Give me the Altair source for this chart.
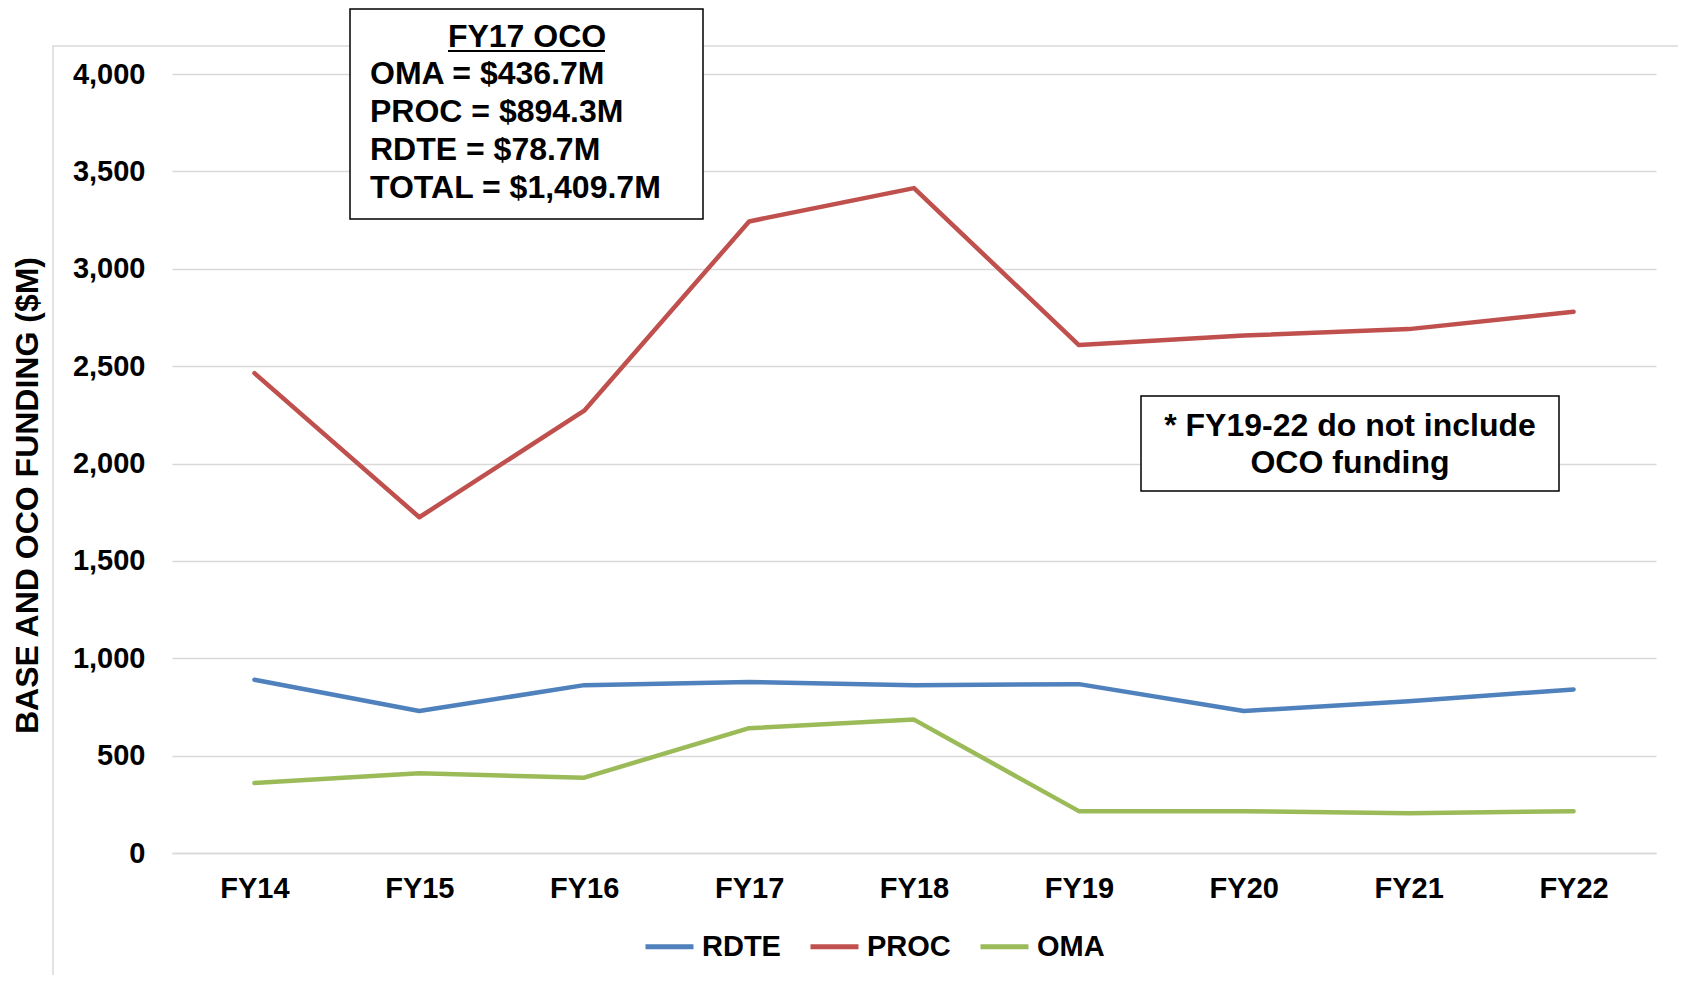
import altair as alt
import pandas as pd

years = ["FY14", "FY15", "FY16", "FY17", "FY18", "FY19", "FY20", "FY21", "FY22"]
rdte = [890, 729, 862, 878, 862, 867, 729, 779, 840]
proc = [2464, 1724, 2271, 3243, 3414, 2608, 2657, 2690, 2779]
oma = [359, 409, 387, 641, 685, 215, 215, 204, 215]
series_names = ["RDTE", "PROC", "OMA"]
series_colors = ["#4F81BD", "#C0504D", "#9BBB59"]
y_ticks = [0, 500, 1000, 1500, 2000, 2500, 3000, 3500, 4000]

box1_title = "FY17 OCO"
box1_lines = ["OMA = $436.7M", "PROC = $894.3M", "RDTE = $78.7M", "TOTAL = $1,409.7M"]
box2_lines = ["* FY19-22 do not include", "OCO funding"]

FONT = "Liberation Sans"
W, H = 1484, 779

rows = []
for name, vals in zip(series_names, [rdte, proc, oma]):
    for yr, v in zip(years, vals):
        rows.append({"year": yr, "value": v, "series": name})
df = pd.DataFrame(rows)

lines = alt.Chart(df).mark_line(strokeWidth=4.5, strokeCap="round", strokeJoin="round").encode(
    x=alt.X("year:N", sort=years,
            scale=alt.Scale(type="point", padding=0.5),
            axis=alt.Axis(title=None, labelAngle=0, labelFont=FONT, labelFontWeight="bold",
                          labelFontSize=29, labelColor="#000000", labelPadding=21,
                          ticks=False, domain=True, domainColor="#d9d9d9", domainWidth=1.5,
                          grid=False)),
    y=alt.Y("value:Q", scale=alt.Scale(domain=[0, 4000], nice=False),
            axis=alt.Axis(values=y_ticks, format=",.0f", title="BASE AND OCO FUNDING ($M)",
                          titleFont=FONT, titleFontWeight="bold", titleFontSize=32,
                          titleColor="#000000", titleX=-145, titleY=421, titleAngle=270,
                          titleAlign="center", titleBaseline="middle",
                          labelFont=FONT, labelFontWeight="bold", labelFontSize=29,
                          labelColor="#000000", labelPadding=27, ticks=False, domain=False,
                          grid=True, gridColor="#d9d9d9", gridWidth=1.5)),
    color=alt.Color("series:N", sort=series_names,
                    scale=alt.Scale(domain=series_names, range=series_colors),
                    legend=alt.Legend(title=None, orient="none", legendX=471, legendY=846,
                                      direction="horizontal", symbolType="stroke",
                                      symbolSize=2304, symbolStrokeWidth=5,
                                      labelFont=FONT, labelFontWeight="bold", labelFontSize=29,
                                      labelColor="#000000", labelOffset=6, columnPadding=19)),
)

# outer frame
frame = alt.Chart(pd.DataFrame({"a": [0]})).mark_rect(
    fill=None, stroke="#d9d9d9", strokeWidth=1.5
).encode(x=alt.value(-119), x2=alt.value(W + 200), y=alt.value(-28), y2=alt.value(H + 300))

# box 1
box1 = alt.Chart(pd.DataFrame({"a": [0]})).mark_rect(
    fill="white", stroke="#000000", strokeWidth=1.5
).encode(x=alt.value(178), x2=alt.value(531), y=alt.value(-65), y2=alt.value(145))

box1_t = alt.Chart(pd.DataFrame({"t": [box1_title]})).mark_text(
    font=FONT, fontWeight="bold", fontSize=32, color="#000000", align="center", baseline="middle"
).encode(text="t:N", x=alt.value(355), y=alt.value(-37))

underline = alt.Chart(pd.DataFrame({"a": [0]})).mark_rule(color="#000000", strokeWidth=2).encode(
    x=alt.value(276), x2=alt.value(433), y=alt.value(-23))

box1_df = pd.DataFrame({"t": box1_lines, "i": list(range(len(box1_lines)))})
box1_txt = alt.Chart(box1_df).mark_text(
    font=FONT, fontWeight="bold", fontSize=32, color="#000000", align="left", baseline="middle"
).encode(text="t:N", x=alt.value(198),
         y=alt.Y("i:O", scale=alt.Scale(type="point", domain=[0, 1, 2, 3], range=[0, 114], padding=0),
                 axis=None))

# box 2
box2 = alt.Chart(pd.DataFrame({"a": [0]})).mark_rect(
    fill="white", stroke="#000000", strokeWidth=1.5
).encode(x=alt.value(969), x2=alt.value(1387), y=alt.value(322), y2=alt.value(417))

box2_df = pd.DataFrame({"t": box2_lines, "j": list(range(len(box2_lines)))})
box2_txt = alt.Chart(box2_df).mark_text(
    font=FONT, fontWeight="bold", fontSize=32, color="#000000", align="center", baseline="middle"
).encode(text="t:N", x=alt.value(1178),
         y=alt.Y("j:O", scale=alt.Scale(type="point", domain=[0, 1], range=[352, 389], padding=0),
                 axis=None))

chart = alt.layer(frame, lines, box1, box1_t, underline, box1_txt, box2, box2_txt).resolve_scale(
    y="independent"
).properties(
    width=W, height=H,
    autosize=alt.AutoSizeParams(type="none"),
    padding={"left": 164, "top": 66, "right": 22, "bottom": 122},
    background="white",
).configure_view(stroke=None)

chart.save("out.html", embed_options={"renderer": "svg", "actions": False})
